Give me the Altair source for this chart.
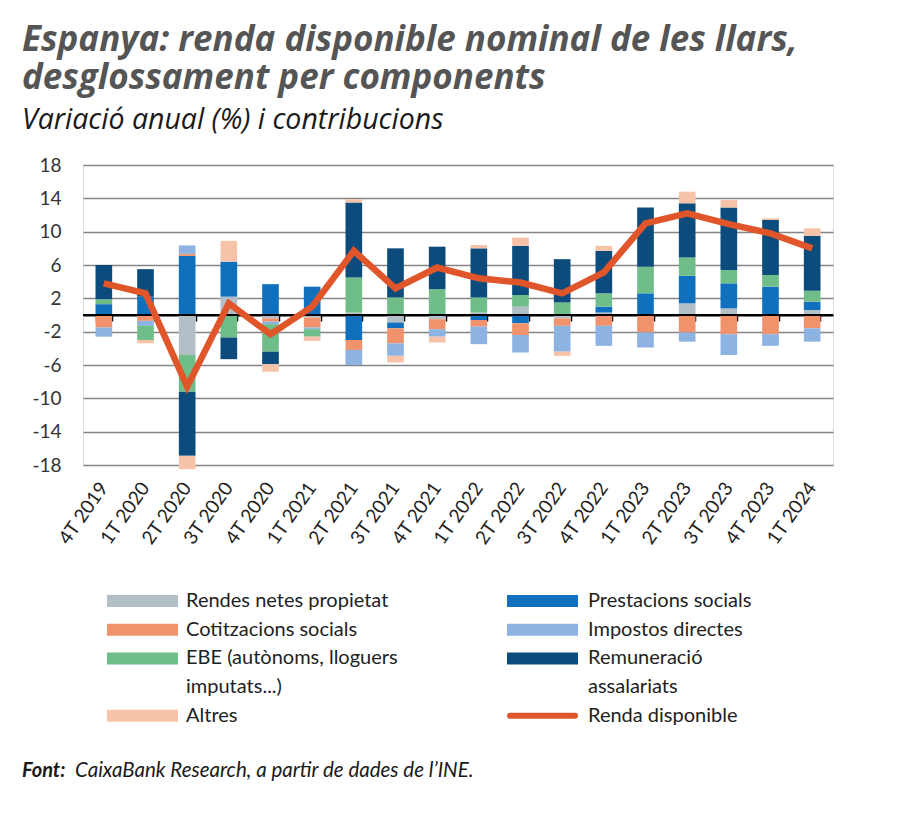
import altair as alt
import pandas as pd

FONT = "Lato"
TFONT = "Open Sans"

# ---------------- data ----------------
quarters = ["4T 2019", "1T 2020", "2T 2020", "3T 2020", "4T 2020", "1T 2021",
            "2T 2021", "3T 2021", "4T 2021", "1T 2022", "2T 2022", "3T 2022",
            "4T 2022", "1T 2023", "2T 2023", "3T 2023", "4T 2023", "1T 2024"]

rendes_propietat = [0.0, 0.0, -4.8, 2.2, -0.4, -0.3, 0.3, -0.9, -0.5, 0.3, 1.0, -0.4, 0.3, 0.0, 1.4, 0.8, 0.0, 0.6]
prestacions_socials = [1.3, 2.2, 7.1, 4.2, 3.7, 3.4, -3.0, -0.7, 0.0, -0.6, -1.0, 0.0, 0.7, 2.6, 3.3, 3.0, 3.4, 1.0]
cotitzacions_socials = [-1.5, -0.7, 0.25, 0.0, -0.4, -1.2, -1.2, -1.8, -1.2, -0.8, -1.4, -0.9, -1.3, -2.1, -2.1, -2.3, -2.3, -1.6]
impostos_directes = [-1.1, -0.6, 1.0, 0.0, -0.3, -0.2, -1.8, -1.5, -0.9, -2.1, -2.1, -3.1, -2.4, -1.8, -1.1, -2.5, -1.4, -1.6]
ebe = [0.6, -1.7, -4.4, -2.7, -3.3, -0.9, 4.2, 2.1, 3.1, 1.8, 1.4, 1.5, 1.6, 3.2, 2.2, 1.6, 1.4, 1.3]
remuneracio = [4.1, 3.3, -7.7, -2.6, -1.5, 0.0, 9.0, 5.9, 5.1, 5.9, 5.9, 5.2, 5.1, 7.1, 6.5, 7.5, 6.6, 6.6]
altres = [0.0, -0.4, -1.6, 2.5, -0.9, -0.5, 0.4, -0.8, -0.7, 0.4, 1.0, -0.5, 0.6, 0.0, 1.4, 0.9, 0.2, 0.9]
renda_disponible = [3.8, 2.6, -8.6, 1.4, -2.3, 1.0, 7.7, 3.2, 5.7, 4.4, 3.9, 2.6, 5.1, 11.0, 12.2, 10.9, 9.8, 8.0]

components = ["Rendes netes propietat", "Prestacions socials", "Cotitzacions socials",
              "Impostos directes", "EBE (autònoms, lloguers imputats...)",
              "Remuneració assalariats", "Altres"]
legend_labels = ["Rendes netes propietat", "Prestacions socials", "Cotitzacions socials",
                 "Impostos directes", "EBE (autònoms, lloguers\nimputats...)",
                 "Remuneració\nassalariats", "Altres"]
component_colors = ["#b3bfc7", "#1170bd", "#f0936c", "#8db3e2", "#6fbe89", "#0c4c7c", "#f7c3a8"]
line_name = "Renda disponible"
line_color = "#e0562a"

y_ticks = [-18, -14, -10, -6, -2, 2, 6, 10, 14, 18]

title_lines = ["Espanya: renda disponible nominal de les llars,", "desglossament per components"]
subtitle_text = "Variació anual (%) i contribucions"
source_bold = "Font:"
source_text = "CaixaBank Research, a partir de dades de l’INE."

# ---------------- tables ----------------
series = [rendes_propietat, prestacions_socials, cotitzacions_socials,
          impostos_directes, ebe, remuneracio, altres]
rows = []
for ci, (name, vals) in enumerate(zip(components, series)):
    for q, v in zip(quarters, vals):
        rows.append({"quarter": q, "component": name, "value": v, "order": ci})
df_bars = pd.DataFrame(rows)
df_line = pd.DataFrame({"quarter": quarters, "value": renda_disponible})

# legend table (row-major, two columns)
entries = [(lab, col, "bar") for lab, col in zip(legend_labels, component_colors)]
entries.append((line_name, line_color, "line"))
leg_sym, leg_txt = [], []
slot = 0
n_rows = (len(entries) + 1) // 2
for r in range(n_rows):
    row_entries = entries[2 * r: 2 * r + 2]
    max_lines = 1
    for c, (lab, colr, kind) in enumerate(row_entries):
        lines = lab.split("\n")
        max_lines = max(max_lines, len(lines))
        leg_sym.append({"col": c, "slot": slot, "color": colr, "kind": kind})
        for j, ln in enumerate(lines):
            leg_txt.append({"col": c, "slot": slot + j, "text": ln})
    slot += max_lines
df_leg_sym = pd.DataFrame(leg_sym)
df_leg_txt = pd.DataFrame(leg_txt)

# ---------------- main chart ----------------
xscale = alt.Scale(domain=quarters, paddingInner=0.6, paddingOuter=0.3)
yscale = alt.Scale(domain=[-18, 18], nice=False, zero=False)

bars = alt.Chart(df_bars).mark_bar().encode(
    x=alt.X("quarter:N", sort=quarters, scale=xscale,
            axis=alt.Axis(title=None, orient="bottom", labelAngle=-55, labelAlign="right",
                          labelBaseline="middle", labelFont=FONT, labelFontSize=19,
                          labelColor="#222222", labelPadding=19, ticks=False,
                          domain=False, grid=False)),
    y=alt.Y("value:Q", stack="zero", scale=yscale,
            axis=alt.Axis(title=None, values=y_ticks, tickCount=len(y_ticks),
                          labelOverlap=False, labelExpr="toString(datum.value)",
                          grid=True, gridColor="#858585",
                          gridWidth=1.5, domain=False, ticks=False, labelFont=FONT,
                          labelFontSize=19, labelColor="#333333", labelPadding=22)),
    color=alt.Color("component:N", scale=alt.Scale(domain=components, range=component_colors),
                    legend=None),
    order=alt.Order("order:Q", sort="ascending"),
)

zero_rule = alt.Chart(pd.DataFrame({"z": [0]})).mark_rule(color="#000000", strokeWidth=2).encode(
    y=alt.Y("z:Q", scale=yscale, title=None)
)

line = alt.Chart(df_line).mark_line(color=line_color, strokeWidth=6.5, strokeJoin="miter").encode(
    x=alt.X("quarter:N", sort=quarters, scale=xscale,
            axis=alt.Axis(title=None, orient="bottom", offset=-150, labels=False,
                          ticks=True, tickBand="extent", tickSize=6, tickWidth=1.5,
                          tickColor="#000000", domain=True, domainColor="#000000",
                          domainWidth=2, grid=False)),
    y=alt.Y("value:Q", scale=yscale, title=None),
)

main = alt.layer(bars, zero_rule, line).resolve_axis(x="independent")

# ---------------- legend ----------------
sym_base = alt.Chart(df_leg_sym).transform_calculate(
    x1="24 + datum.col * 400",
    x2="95 + datum.col * 400",
    yc="436 + datum.slot * 28.7",
)
leg_rects = sym_base.transform_filter("datum.kind == 'bar'").transform_calculate(
    y1="datum.yc - 6", y2="datum.yc + 6"
).mark_rect().encode(
    x=alt.X("x1:Q", scale=None, axis=None),
    x2="x2:Q",
    y=alt.Y("y1:Q", scale=None, axis=None),
    y2="y2:Q",
    color=alt.Color("color:N", scale=None, legend=None),
)
leg_line = sym_base.transform_filter("datum.kind == 'line'").transform_calculate(
    x1b="datum.x1 + 3", x2b="datum.x2 - 3"
).mark_rule(strokeWidth=6, strokeCap="round").encode(
    x=alt.X("x1b:Q", scale=None, axis=None),
    x2="x2b:Q",
    y=alt.Y("yc:Q", scale=None, axis=None),
    color=alt.Color("color:N", scale=None, legend=None),
)
leg_text = alt.Chart(df_leg_txt).transform_calculate(
    tx="103 + datum.col * 402",
    ty="436 + datum.slot * 28.7",
).mark_text(align="left", baseline="middle", font=FONT, fontSize=20, color="#222222").encode(
    x=alt.X("tx:Q", scale=None, axis=None),
    y=alt.Y("ty:Q", scale=None, axis=None),
    text="text:N",
)

# ---------------- source ----------------
src1 = alt.Chart(pd.DataFrame({"t": [source_bold]})).mark_text(
    align="left", baseline="alphabetic", font=FONT, fontSize=20, fontStyle="italic",
    fontWeight="bold", color="#1a1a1a"
).encode(x=alt.value(-61), y=alt.value(612), text="t:N")
src2 = alt.Chart(pd.DataFrame({"t": [source_text]})).mark_text(
    align="left", baseline="alphabetic", font=FONT, fontSize=20.5, fontStyle="italic",
    color="#1a1a1a"
).encode(x=alt.value(-8), y=alt.value(612), text="t:N")

chart = alt.layer(main, leg_rects, leg_line, leg_text, src1, src2).resolve_scale(
    x="independent", y="independent", color="independent"
).properties(
    width=750,
    height=300,
    autosize=alt.AutoSizeParams(type="none"),
    padding={"left": 83, "top": 165, "right": 67, "bottom": 356},
    title=alt.TitleParams(
        text=title_lines, subtitle=subtitle_text, anchor="start", frame="group",
        dx=-61, offset=22, font=TFONT, fontSize=35, fontWeight="bold",
        fontStyle="italic", color="#555555", lineHeight=37.5,
        subtitleFont=TFONT, subtitleFontSize=28.5, subtitleFontStyle="italic",
        subtitleFontWeight="normal", subtitleColor="#1a1a1a", subtitlePadding=10,
    ),
).configure_view(stroke=None).configure(background="white")

chart.save("out.html", embed_options={"renderer": "svg", "actions": False})
